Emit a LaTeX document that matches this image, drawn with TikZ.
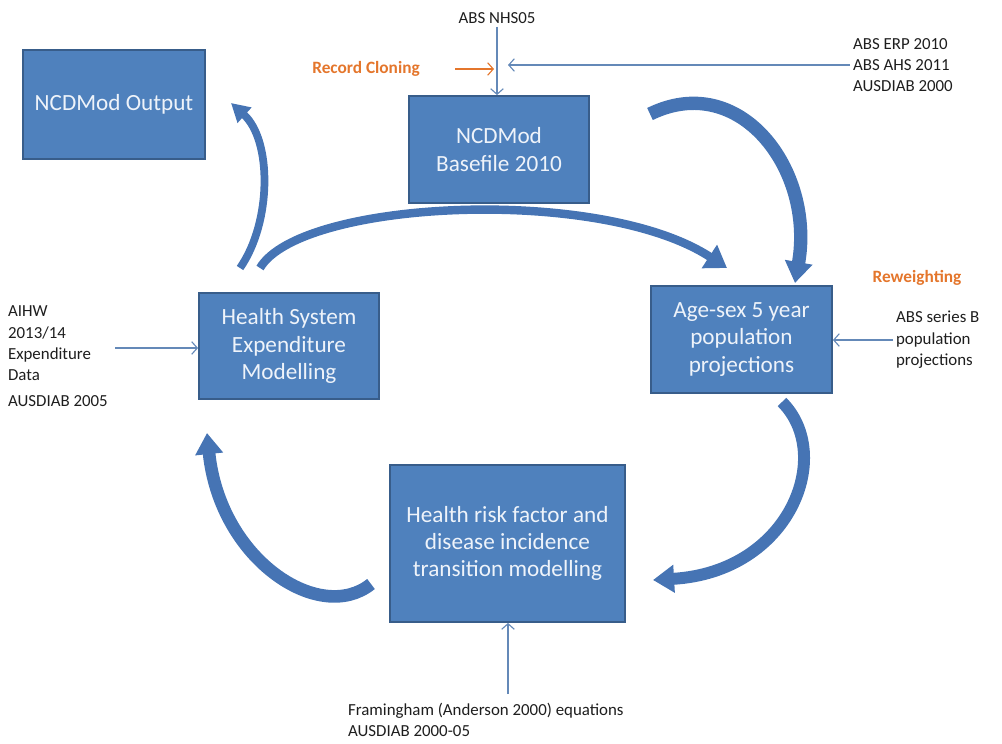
\documentclass[tikz,border=0pt]{standalone}
\usepackage{fontspec}
\setmainfont{Carlito}
\usetikzlibrary{arrows.meta}

\definecolor{boxblue}{RGB}{79,129,189}
\definecolor{boxedge}{RGB}{56,93,138}
\definecolor{boxtext}{RGB}{238,243,250}
\definecolor{arrowblue}{RGB}{70,116,180}
\definecolor{linkblue}{RGB}{100,137,184}
\definecolor{cloneorange}{RGB}{228,118,44}
\definecolor{sourcetext}{RGB}{30,30,30}

\begin{document}
\begin{tikzpicture}[
    x=0.025cm, y=-0.025cm,
    box/.style={
        draw=boxedge,
        line width=1.3pt,
        fill=boxblue,
        text=boxtext,
        align=center,
        inner sep=2pt,
        font=\fontsize{16.5}{19.4}\selectfont
    },
    source/.style={text=sourcetext, align=left, inner sep=2pt, font=\fontsize{12}{15.2}\selectfont},
    note/.style={text=cloneorange, inner sep=2pt, font=\bfseries\fontsize{12.3}{14}\selectfont},
    link/.style={draw=linkblue, line width=0.8pt, -{Straight Barb[length=4pt, width=9pt]}},
    clonelink/.style={draw=cloneorange, line width=0.8pt, -{Straight Barb[length=4pt, width=9pt]}},
    flow/.style={draw=arrowblue, line width=#1, -{Triangle[length=15pt, width=19pt]}}
]
\useasboundingbox (0,0) rectangle (1002,744);

% === Model stages ===
\node[box, minimum width=4.55cm, minimum height=2.725cm] (output) at (114,104.5) {NCDMod Output};
\node[box, minimum width=4.5cm, minimum height=2.675cm] (basefile) at (499,149.5) {NCDMod\\Basefile 2010};
\node[box, minimum width=4.5cm, minimum height=2.65cm] (expend) at (289,346) {Health System\\Expenditure\\Modelling};
\node[box, minimum width=4.525cm, minimum height=2.675cm] (projection) at (741.5,339.5) {Age-sex 5 year\\population\\projections};
\node[box, minimum width=5.875cm, minimum height=3.925cm] (transition) at (507.5,543.5) {Health risk factor and\\disease incidence\\transition modelling};

% === Data sources ===
\node[source] (nhs) at (497,18) {ABS NHS05};
\node[note] (cloning) at (366,69) {Record Cloning};
\node[source, anchor=west] (erp) at (850,65) {ABS ERP 2010\\ABS AHS 2011\\AUSDIAB 2000};
\node[note] (reweight) at (917,278) {Reweighting};
\node[source, anchor=west] (seriesb) at (893,340) {ABS series B\\population\\projections};
\node[source, anchor=west] (aihw) at (5,343.5) {AIHW\\2013/14\\Expenditure\\Data};
\node[source, anchor=west] (ausdiab) at (5,401) {AUSDIAB 2005};
\node[source, anchor=west] (fram) at (345,720) {Framingham (Anderson 2000) equations\\AUSDIAB 2000-05};

% free ends of the input arrows
\coordinate (clonetail) at (455,69);
\coordinate (clonetip) at (494,69);
\coordinate (erptip) at (508,64);
\coordinate (aihwtail) at (115,348);
\coordinate (framtail) at (508,694);

% ends of the cycle arrows
\coordinate (outtail) at (240,268);
\coordinate (outhead) at (231,103);
\coordinate (overtail) at (260,268);
\coordinate (overhead) at (727,268);
\coordinate (basetail) at (650,114);
\coordinate (basehead) at (795,283);
\coordinate (projtail) at (782,402);
\coordinate (projhead) at (653,580);
\coordinate (risktail) at (371,584);
\coordinate (riskhead) at (207,433);

% ============ INPUT ARROWS ============
\draw[link] (nhs) -- (nhs |- basefile.north);
\draw[clonelink] (clonetail) -- (clonetip);
\draw[link] (erp.west) -- (erp.west -| erptip);
\draw[link] (seriesb.west) -- (seriesb.west -| projection.east);
\draw[link] (aihwtail) -- (aihwtail -| expend.west);
\draw[link] (framtail) -- (framtail |- transition.south);

% ============ CYCLE ARROWS ============
\draw[flow=5.5pt, -{Triangle[length=13pt, width=14pt]}] (outtail) .. controls (272,222) and (272,140) .. (outhead);
\draw[flow=6pt] (overtail) .. controls (300,200) and (600,185) .. (overhead);
\draw[flow=9.5pt] (basetail) .. controls (740,70) and (815,170) .. (basehead);
\draw[flow=8.5pt] (projtail) .. controls (835,455) and (790,572) .. (projhead);
\draw[flow=9pt] (risktail) .. controls (320,625) and (220,560) .. (riskhead);

\end{tikzpicture}
\end{document}
